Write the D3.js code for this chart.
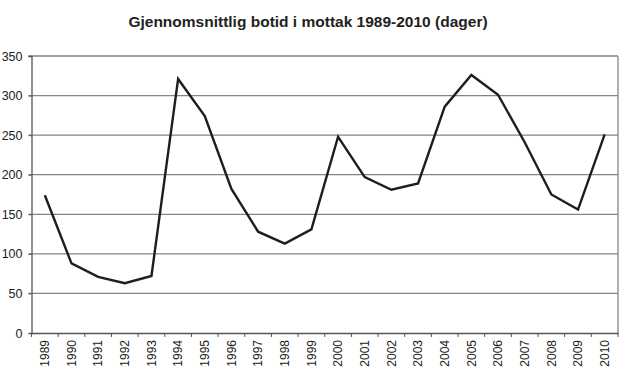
<!DOCTYPE html>
<html><head><meta charset="utf-8">
<script src="https://cdn.jsdelivr.net/npm/d3@7"></script>
<style>body{margin:0;background:#fff}svg{display:block}</style>
</head><body>
<svg id="c" width="620" height="383"></svg>
<script>
const years = ["1989","1990","1991","1992","1993","1994","1995","1996","1997","1998","1999","2000","2001","2002","2003","2004","2005","2006","2007","2008","2009","2010"];
const values = [174, 88, 71, 63, 72, 321, 274, 182, 128, 113, 131, 248, 197, 181, 189, 286, 326, 301, 241, 175, 156, 251];
const yTicks = [0, 50, 100, 150, 200, 250, 300, 350];
const title = "Gjennomsnittlig botid i mottak 1989-2010 (dager)";

const svg = d3.select("#c");
const m = {left: 31.5, right: 618, top: 56, bottom: 333};
const x = d3.scaleBand().domain(years).range([m.left, m.right]);
const y = d3.scaleLinear().domain([0, 350]).range([m.bottom, m.top]);
const font = "'Liberation Sans', Arial, sans-serif";

svg.append("text").attr("x", 308).attr("y", 27).attr("text-anchor", "middle")
  .attr("font-family", font).attr("font-weight", "bold").attr("font-size", 15.5)
  .attr("fill", "#222").text(title);

// gridlines
svg.append("g").selectAll("line").data(yTicks.filter(d => d > 0)).join("line")
  .attr("x1", m.left - 3).attr("x2", m.right).attr("y1", d => y(d)).attr("y2", d => y(d))
  .attr("stroke", "#858585").attr("stroke-width", 1.3);

// right border
svg.append("line").attr("x1", m.right).attr("x2", m.right).attr("y1", y(350)).attr("y2", y(0))
  .attr("stroke", "#858585").attr("stroke-width", 1.3);

// y axis
const ya = svg.append("g").attr("transform", `translate(${m.left},0)`)
  .call(d3.axisLeft(y).tickValues(yTicks).tickSize(3).tickPadding(6));
ya.select(".domain").attr("stroke", "#555").attr("stroke-width", 1.3);
ya.selectAll(".tick line").attr("stroke", "#555");
ya.selectAll("text").attr("font-family", font).attr("font-size", 12.5).attr("fill", "#222");

// x axis
const xa = svg.append("g").attr("transform", `translate(0,${m.bottom})`)
  .call(d3.axisBottom(x).tickSize(0).tickPadding(0));
xa.select(".domain").attr("stroke", "#555").attr("stroke-width", 1.3);
xa.selectAll(".tick line").remove();
xa.selectAll(".tick text")
  .attr("font-family", font).attr("font-size", 12).attr("fill", "#222")
  .attr("transform", "rotate(-90)").attr("text-anchor", "end")
  .attr("x", -7).attr("y", 0).attr("dy", "0.35em");
// boundary ticks
const bounds = years.map(d => x(d)).concat([x(years[years.length-1]) + x.bandwidth()]);
svg.append("g").selectAll("line").data(bounds).join("line")
  .attr("x1", d => d).attr("x2", d => d).attr("y1", m.bottom).attr("y2", m.bottom + 4)
  .attr("stroke", "#555").attr("stroke-width", 1);

// line
const line = d3.line().x((d, i) => x(years[i]) + x.bandwidth() / 2).y(d => y(d));
svg.append("path").datum(values).attr("d", line).attr("fill", "none")
  .attr("stroke", "#1e1e1e").attr("stroke-width", 2.4).attr("stroke-linejoin", "miter");
</script>
</body></html>
